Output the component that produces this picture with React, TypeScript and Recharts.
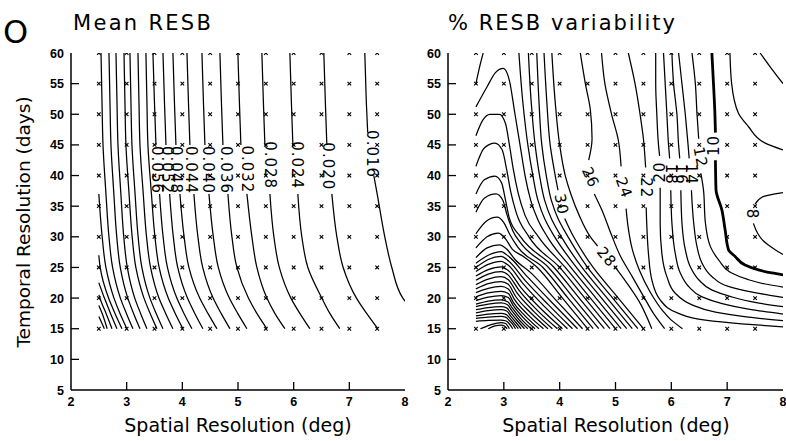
import React from "react";
import { ComposedChart, Line, Scatter, XAxis, YAxis } from "recharts";

type Pt = [number, number];
type Contour = { v: number; segs: Pt[][]; bold?: boolean };
type Tag = { x: number; y: number; t: string; a: number };

// sampling grid of the experiment (the small x marks)
const gridX = [2.5, 3, 3.5, 4, 4.5, 5, 5.5, 6, 6.5, 7, 7.5];
const gridY = [15, 20, 25, 30, 35, 40, 45, 50, 55, 60];
const xTicks = [2, 3, 4, 5, 6, 7, 8];
const yTicks = [5, 10, 15, 20, 25, 30, 35, 40, 45, 50, 55, 60];

// Mean RESB contours, each piece listed from top to bottom
const meanContours: Contour[] = [
  { v: 0.016, segs: [[[7.278, 60], [7.305, 52], [7.33, 47]], [[7.44, 40], [7.5, 37], [7.637, 30], [7.763, 25], [7.961, 20], [8.0, 19.5]]] },
  { v: 0.020, segs: [[[6.542, 60], [6.569, 52], [6.596, 45]], [[6.686, 37], [6.776, 30], [6.889, 25], [7.128, 20], [7.311, 17.5], [7.512, 15]]] },
  { v: 0.024, segs: [[[5.932, 60], [5.959, 52], [5.986, 45]], [[6.075, 37], [6.147, 30], [6.255, 25], [6.506, 20], [6.65, 17.5], [6.829, 15]]] },
  { v: 0.028, segs: [[[5.429, 60], [5.456, 52], [5.483, 45]], [[5.573, 37], [5.645, 30], [5.742, 25], [5.95, 20], [6.111, 17.5], [6.291, 15]]] },
  { v: 0.032, segs: [[[4.998, 60], [5.025, 52], [5.052, 45]], [[5.16, 37], [5.25, 30], [5.339, 25], [5.519, 20], [5.662, 17.5], [5.842, 15]]] },
  { v: 0.036, segs: [[[4.675, 60], [4.702, 52], [4.729, 45]], [[4.819, 37], [4.891, 30], [4.98, 25], [5.187, 20], [5.339, 17.5], [5.519, 15]]] },
  { v: 0.040, segs: [[[4.352, 60], [4.379, 52], [4.406, 45]], [[4.478, 37], [4.557, 30], [4.646, 25], [4.844, 20], [4.995, 17.5], [5.16, 15]]] },
  { v: 0.044, segs: [[[4.083, 60], [4.11, 52], [4.136, 45]], [[4.208, 37], [4.28, 30], [4.366, 25], [4.553, 20], [4.697, 17.5], [4.855, 15]]] },
  { v: 0.048, segs: [[[3.831, 60], [3.858, 52], [3.885, 45]], [[3.957, 37], [4.032, 30], [4.118, 25], [4.312, 20], [4.46, 17.5], [4.621, 15]]] },
  { v: 0.052, segs: [[[3.652, 60], [3.679, 52], [3.706, 45]], [[3.772, 37], [3.838, 30], [3.917, 25], [4.092, 20], [4.224, 17.5], [4.37, 15]]] },
  { v: 0.056, segs: [[[3.472, 60], [3.499, 52], [3.526, 45]], [[3.591, 37], [3.655, 30], [3.732, 25], [3.901, 20], [4.029, 17.5], [4.172, 15]]] },
  { v: 0.060, segs: [[[3.346, 60], [3.364, 52], [3.382, 45], [3.445, 37], [3.508, 30], [3.583, 25], [3.747, 20], [3.872, 17.5], [4.011, 15]]] },
  { v: 0.064, segs: [[[3.203, 60], [3.221, 52], [3.239, 45], [3.298, 37], [3.357, 30], [3.429, 25], [3.58, 20], [3.7, 17.5], [3.831, 15]]] },
  { v: 0.068, segs: [[[3.059, 60], [3.077, 52], [3.095, 45], [3.151, 37], [3.206, 30], [3.273, 25], [3.418, 20], [3.53, 17.5], [3.652, 15]]] },
  { v: 0.072, segs: [[[2.952, 60], [2.969, 52], [2.987, 45], [3.043, 37], [3.099, 30], [3.165, 25], [3.311, 20], [3.422, 17.5], [3.544, 15]]] },
  { v: 0.076, segs: [[[2.808, 60], [2.826, 52], [2.844, 45], [2.896, 37], [2.948, 30], [3.011, 25], [3.145, 20], [3.25, 17.5], [3.364, 15]]] },
  { v: 0.080, segs: [[[2.682, 60], [2.7, 52], [2.718, 45], [2.77, 37], [2.822, 30], [2.885, 25], [3.02, 20], [3.124, 17.5], [3.239, 15]]] },
  { v: 0.084, segs: [[[2.539, 60], [2.557, 52], [2.575, 45], [2.628, 37], [2.682, 30], [2.747, 25], [2.887, 20], [2.995, 17.5], [3.113, 15]]] },
  { v: 0.088, segs: [[[2.5, 37], [2.56, 30], [2.627, 25], [2.772, 20], [2.88, 17.5], [3.005, 15]]] },
  { v: 0.092, segs: [[[2.5, 27], [2.524, 25], [2.675, 20], [2.79, 17.5], [2.916, 15]]] },
  { v: 0.096, segs: [[[2.5, 22.5], [2.6, 20], [2.71, 17.5], [2.826, 15]]] },
  { v: 0.100, segs: [[[2.5, 20.5], [2.56, 19], [2.63, 17.5], [2.736, 15]]] },
  { v: 0.104, segs: [[[2.5, 18.8], [2.56, 17.5], [2.65, 15]]] },
  { v: 0.108, segs: [[[2.5, 17], [2.56, 15.8], [2.6, 15]]] },
];

const meanTags: Tag[] = [
  { x: 7.4, y: 43.5, t: "0.016", a: 90 },
  { x: 6.614, y: 41.5, t: "0.020", a: 90 },
  { x: 6.052, y: 41.7, t: "0.024", a: 90 },
  { x: 5.573, y: 41.7, t: "0.028", a: 90 },
  { x: 5.16, y: 41, t: "0.032", a: 90 },
  { x: 4.788, y: 40.9, t: "0.036", a: 90 },
  { x: 4.46, y: 40.9, t: "0.040", a: 90 },
  { x: 4.16, y: 40.9, t: "0.044", a: 90 },
  { x: 3.89, y: 40.9, t: "0.048", a: 90 },
  { x: 3.72, y: 40.9, t: "0.052", a: 90 },
  { x: 3.55, y: 40.9, t: "0.056", a: 90 },
];

// % RESB variability: lines coming from the top / right side (top to bottom)
const varContours: Contour[] = [
  { v: 6, segs: [[[7.59, 60], [7.75, 58], [8, 55]]] },
  { v: 8, segs: [[[7.05, 60], [7.08, 55], [7.2, 50.2], [7.38, 48], [7.68, 45.3], [8, 44.2]]] },
  { v: 8, segs: [[[8, 37.2], [7.63, 36.5], [7.5, 35.3]], [[7.47, 32.2], [7.55, 30.5], [7.63, 29.5], [7.86, 27.9], [8, 27.1]]] },
  { v: 10, bold: true, segs: [[[6.726, 60], [6.755, 55], [6.78, 50.2], [6.79, 47]], [[6.79, 42.5], [6.8, 37.7], [6.905, 34.4], [6.964, 31.1], [7.024, 27.9], [7.143, 26.8], [7.32, 25.4], [7.56, 24.6], [7.8, 24.1], [8, 23.8]]] },
  { v: 12, segs: [[[6.37, 60], [6.43, 55], [6.46, 50], [6.49, 46]], [[6.53, 40.3], [6.575, 37.7], [6.61, 32.3], [6.7, 28.4], [6.85, 26.2], [7.08, 24.1], [7.38, 23], [7.68, 22.3], [8, 21.8]]] },
  { v: 14, segs: [[[6.13, 60], [6.19, 55], [6.25, 50], [6.3, 45], [6.32, 42.8]], [[6.36, 37.6], [6.4, 32.3], [6.46, 28.4], [6.55, 25.7], [6.73, 23.5], [7.02, 21.9], [7.38, 21.1], [7.74, 20.5], [8, 20.1]]] },
  { v: 16, segs: [[[6.01, 60], [6.04, 55], [6.1, 50], [6.13, 45], [6.15, 42.8]], [[6.17, 37.6], [6.19, 32.3], [6.25, 27.9], [6.34, 25.1], [6.49, 23], [6.73, 21.3], [7.08, 20.2], [7.5, 19.3], [8, 18.6]]] },
  { v: 18, segs: [[[5.86, 60], [5.89, 55], [5.92, 50], [5.95, 45], [5.97, 42.8]], [[5.99, 37.6], [6.01, 32.3], [6.07, 27.3], [6.16, 24.1], [6.31, 21.9], [6.55, 20.2], [6.91, 19.1], [7.38, 18.2], [8, 17.4]]] },
  { v: 20, segs: [[[5.72, 60], [5.72, 55], [5.74, 50], [5.77, 45], [5.79, 43.2]], [[5.8, 38], [5.8, 32.3], [5.83, 27.3], [5.92, 23.5], [6.07, 20.8], [6.37, 18.9], [6.79, 17.7], [7.38, 16.9], [8, 16.3]]] },
  { v: 22, segs: [[[5.23, 60], [5.35, 55], [5.44, 50], [5.5, 46], [5.54, 41.3]], [[5.55, 34.8], [5.56, 32], [5.59, 27.3], [5.65, 23], [5.8, 19.7], [6.13, 17.5], [6.61, 16.4], [7.26, 15.8], [8, 15.3]]] },
  { v: 24, segs: [[[4.75, 60], [4.81, 55], [4.93, 50], [5.05, 45.8], [5.1, 41.5]], [[5.19, 34.6], [5.22, 32], [5.3, 28], [5.43, 24.5], [5.62, 21], [5.84, 18], [6.0, 16.4], [6.2, 15]]] },
  { v: 26, segs: [[[4.37, 60], [4.46, 55], [4.55, 50.7], [4.58, 46], [4.52, 42.5]], [[4.62, 37], [4.75, 34.5], [4.92, 30.5], [5.08, 27], [5.3, 23.5], [5.52, 20], [5.68, 17.5], [5.88, 15]]] },
  { v: 28, segs: [[[3.86, 60], [3.92, 52], [4.0, 45], [4.1, 40], [4.2, 37], [4.35, 33.5], [4.55, 30], [4.68, 28.5]], [[4.98, 25.2], [5.2, 22.5], [5.42, 19.5], [5.65, 15]]] },
  { v: 30, segs: [[[3.72, 60], [3.77, 52], [3.83, 45], [3.92, 40], [3.97, 37.6]], [[4.09, 33], [4.25, 30], [4.6, 25], [5.05, 20], [5.5, 15]]] },
  { v: 32, segs: [[[3.59, 60], [3.63, 52], [3.68, 45], [3.76, 40], [3.85, 36], [3.97, 33], [4.15, 30], [4.5, 25], [4.95, 20], [5.4, 15]]] },
  { v: 34, segs: [[[3.44, 60], [3.49, 52], [3.56, 45], [3.64, 40], [3.73, 36], [3.85, 33], [4.03, 30], [4.4, 25], [4.85, 20], [5.3, 15]]] },
  { v: 36, segs: [[[3.27, 60], [3.34, 52], [3.43, 45], [3.52, 40], [3.61, 36], [3.73, 33], [3.91, 30], [4.3, 25], [4.75, 20], [5.2, 15]]] },
  { v: 36, segs: [[[2.63, 60], [2.56, 57.5], [2.5, 55]]] },
];

// % RESB variability: humped lines around the maximum near (3, 15), left to right
const varHumps: Contour[] = [
  { v: 38, segs: [[[2.5, 51.2], [2.7, 54.5], [2.85, 56.8], [2.99, 57.5], [3.1, 55.5], [3.2, 50], [3.29, 45], [3.38, 40], [3.48, 36], [3.6, 33], [3.78, 30], [4.2, 25], [4.65, 20], [5.1, 15]]] },
  { v: 40, segs: [[[2.5, 46.5], [2.62, 49], [2.75, 50], [2.92, 50], [3.03, 48.5], [3.1, 45], [3.17, 41], [3.26, 37], [3.38, 33.5], [3.62, 30], [4.1, 25], [4.55, 20], [5.0, 15]]] },
  { v: 42, segs: [[[2.5, 41.5], [2.65, 44.5], [2.84, 45.3], [2.97, 44.2], [3.05, 41], [3.12, 37.5], [3.22, 34], [3.45, 30], [4.0, 25], [4.45, 20], [4.9, 15]]] },
  { v: 44, segs: [[[2.5, 37], [2.65, 39.3], [2.84, 39.9], [2.96, 38.8], [3.03, 36], [3.1, 33], [3.3, 30], [3.9, 25], [4.35, 20], [4.8, 15]]] },
  { v: 46, segs: [[[2.5, 34], [2.65, 36.3], [2.86, 37], [2.98, 36], [3.06, 33.5], [3.16, 31], [3.3, 29], [3.8, 25], [4.25, 20], [4.7, 15]]] },
  { v: 48, segs: [[[2.5, 30.5], [2.68, 32.5], [2.88, 33.2], [3.0, 32.3], [3.1, 30.5], [3.25, 28.3], [3.7, 25], [4.15, 20], [4.6, 15]]] },
  { v: 50, segs: [[[2.5, 28.2], [2.7, 30], [2.9, 30.6], [3.02, 29.8], [3.15, 28], [3.35, 26.8], [3.6, 25], [4.05, 20], [4.5, 15]]] },
  { v: 52, segs: [[[2.5, 26.6], [2.7, 28.2], [2.92, 28.7], [3.05, 28], [3.2, 26.3], [3.5, 24], [3.95, 19.5], [4.41, 15]]] },
  { v: 54, segs: [[[2.5, 25.7], [2.72, 27.0], [2.95, 27.6], [3.08, 26.85], [3.42, 23.5], [3.87, 19.2], [4.32, 15]]] },
  { v: 56, segs: [[[2.5, 25.0], [2.72, 26.3], [2.95, 26.8], [3.08, 26.1], [3.38, 22.9], [3.8, 18.9], [4.23, 15]]] },
  { v: 58, segs: [[[2.5, 24.35], [2.72, 25.5], [2.95, 26.0], [3.08, 25.35], [3.34, 22.4], [3.73, 18.6], [4.14, 15]]] },
  { v: 60, segs: [[[2.5, 23.6], [2.72, 24.65], [2.95, 25.1], [3.08, 24.5], [3.3, 21.8], [3.66, 18.3], [4.05, 15]]] },
  { v: 62, segs: [[[2.5, 22.9], [2.72, 23.9], [2.95, 24.3], [3.08, 23.75], [3.27, 21.3], [3.6, 18.0], [3.96, 15]]] },
  { v: 64, segs: [[[2.5, 22.2], [2.72, 23.1], [2.95, 23.5], [3.08, 23.0], [3.24, 20.8], [3.54, 17.8], [3.87, 15]]] },
  { v: 66, segs: [[[2.5, 21.5], [2.72, 22.35], [2.95, 22.7], [3.08, 22.25], [3.21, 20.3], [3.48, 17.6], [3.79, 15]]] },
  { v: 68, segs: [[[2.5, 20.9], [2.72, 21.6], [2.95, 21.9], [3.08, 21.5], [3.19, 19.8], [3.43, 17.3], [3.71, 15]]] },
  { v: 70, segs: [[[2.5, 20.2], [2.72, 20.85], [2.95, 21.1], [3.08, 20.75], [3.17, 19.3], [3.38, 17.1], [3.63, 15]]] },
  { v: 72, segs: [[[2.5, 19.6], [2.72, 20.15], [2.95, 20.4], [3.08, 20.1], [3.16, 18.9], [3.34, 16.9], [3.56, 15]]] },
  { v: 74, segs: [[[2.5, 19.0], [2.72, 19.5], [2.95, 19.7], [3.07, 19.4], [3.15, 18.4], [3.3, 16.7], [3.49, 15]]] },
  { v: 76, segs: [[[2.5, 18.6], [2.72, 19.0], [2.95, 19.2], [3.06, 18.95], [3.14, 18.0], [3.27, 16.5], [3.43, 15]]] },
  { v: 78, segs: [[[2.5, 18.1], [2.72, 18.45], [2.95, 18.6], [3.05, 18.4], [3.13, 17.5], [3.24, 16.3], [3.37, 15]]] },
  { v: 80, segs: [[[2.5, 17.6], [2.72, 17.95], [2.95, 18.1], [3.05, 17.9], [3.12, 17.1], [3.21, 16.1], [3.31, 15]]] },
  { v: 82, segs: [[[2.5, 17.1], [2.72, 17.4], [2.95, 17.5], [3.04, 17.35], [3.11, 16.7], [3.18, 15.9], [3.26, 15]]] },
  { v: 84, segs: [[[2.5, 16.7], [2.72, 16.9], [2.95, 17.0], [3.04, 16.85], [3.1, 16.3], [3.16, 15.7], [3.21, 15]]] },
  { v: 86, segs: [[[2.5, 16.2], [2.72, 16.35], [2.95, 16.4], [3.03, 16.3], [3.09, 15.9], [3.16, 15]]] },
  { v: 88, segs: [[[2.58, 15], [2.75, 15.6], [2.95, 16.0], [3.03, 15.85], [3.1, 15]]] },
  { v: 90, segs: [[[2.72, 15], [2.84, 15.45], [2.95, 15.6], [3.01, 15.45], [3.06, 15]]] },
];

const varTags: Tag[] = [
  { x: 4.03, y: 35.3, t: "30", a: 80 },
  { x: 4.84, y: 26.7, t: "28", a: 50 },
  { x: 4.55, y: 39.7, t: "26", a: 65 },
  { x: 5.15, y: 38.0, t: "24", a: 70 },
  { x: 5.55, y: 38.0, t: "22", a: 90 },
  { x: 5.8, y: 40.6, t: "20", a: -90 },
  { x: 6.0, y: 40.2, t: "18", a: 90 },
  { x: 6.17, y: 40.2, t: "16", a: 90 },
  { x: 6.35, y: 40.2, t: "14", a: 90 },
  { x: 6.52, y: 43.0, t: "12", a: 80 },
  { x: 6.77, y: 44.9, t: "10", a: -90 },
  { x: 7.45, y: 33.7, t: "8", a: 90 },
];

const grid = gridY.flatMap((y) => gridX.map((x) => ({ x, y })));

const axisLine = { stroke: "#000", strokeWidth: 1.5 };
const tickFont = { fontFamily: "'Liberation Sans', Arial, sans-serif", fontSize: 12.5, fontWeight: 700, fill: "#000" } as const;
const TM = 7;

const LeftTick = (p: any) => {
  const v = p.payload.value;
  const edge = p.x + TM;
  return (
    <g>
      <text x={p.x} y={p.y + 4.5} textAnchor="end" style={tickFont}>{v}</text>
      {v > 5 && v < 60 && <line x1={edge} x2={edge + 8} y1={p.y} y2={p.y} stroke="#000" strokeWidth={1.3} />}
    </g>
  );
};

const RightTick = (p: any) => {
  const v = p.payload.value;
  if (v <= 5 || v >= 60) return <g />;
  return <line x1={p.x - 7} x2={p.x} y1={p.y} y2={p.y} stroke="#000" strokeWidth={1.3} />;
};

const BottomTick = (p: any) => {
  const v = p.payload.value;
  const edge = p.y - TM;
  return (
    <g>
      <text x={p.x} y={p.y + 9} textAnchor="middle" style={tickFont}>{v}</text>
      {v > 2 && v < 8 && <line x1={p.x} x2={p.x} y1={edge} y2={edge - 8} stroke="#000" strokeWidth={1.3} />}
    </g>
  );
};

const Cross = (p: any) => {
  const { cx, cy } = p;
  const r = 1.8;
  return (
    <path
      d={`M${cx - r},${cy - r}L${cx + r},${cy + r}M${cx - r},${cy + r}L${cx + r},${cy - r}`}
      stroke="#000"
      strokeWidth={1.1}
    />
  );
};

const TagShape = (p: any) => {
  const { cx, cy } = p;
  const d = p.payload ?? p;
  return (
    <text
      x={cx}
      y={cy}
      textAnchor="middle"
      dominantBaseline="central"
      transform={`rotate(${d.a}, ${cx}, ${cy})`}
      fontFamily="'DejaVu Sans', sans-serif"
      fontSize={15}
      letterSpacing={1}
      fill="#000"
    >
      {d.t}
    </text>
  );
};

const lineEls = (list: Contour[], curve: "monotoneX" | "monotoneY", prefix: string) =>
  list.flatMap((c, i) =>
    c.segs.map((s, j) => (
      <Line
        key={`${prefix}-${i}-${j}`}
        data={(curve === "monotoneY" ? [...s].reverse() : s).map(([x, y]) => ({ x, y }))}
        dataKey="y"
        type={curve}
        stroke="#000"
        strokeWidth={c.bold ? 2.8 : 1.25}
        dot={false}
        activeDot={false}
        isAnimationActive={false}
      />
    ))
  );

function Panel({ left, width, mr, children }: { left: number; width: number; mr: number; children: React.ReactNode }) {
  return (
    <div style={{ position: "absolute", left, top: 0 }}>
      <ComposedChart width={width} height={441} margin={{ top: 53, right: mr, bottom: 21, left: 31 }}>
        <XAxis xAxisId="top" orientation="top" type="number" domain={[2, 8]} height={0} tick={false} tickLine={false} axisLine={axisLine} allowDataOverflow />
        <XAxis
          type="number"
          dataKey="x"
          domain={[2, 8]}
          ticks={xTicks}
          interval={0}
          height={30}
          tickSize={0}
          tickMargin={TM}
          tickLine={false}
          axisLine={axisLine}
          tick={(p: any) => <BottomTick {...p} />}
          allowDataOverflow
        />
        <YAxis
          type="number"
          dataKey="y"
          domain={[5, 60]}
          ticks={yTicks}
          interval={0}
          width={40}
          tickSize={0}
          tickMargin={TM}
          tickLine={false}
          axisLine={axisLine}
          tick={(p: any) => <LeftTick {...p} />}
          allowDataOverflow
        />
        <YAxis
          yAxisId="right"
          orientation="right"
          type="number"
          domain={[5, 60]}
          ticks={yTicks}
          interval={0}
          width={0}
          tickSize={0}
          tickMargin={0}
          tickLine={false}
          axisLine={axisLine}
          tick={(p: any) => <RightTick {...p} />}
          allowDataOverflow
        />
        {children}
        <Scatter data={grid} shape={Cross} isAnimationActive={false} />
      </ComposedChart>
    </div>
  );
}

const labelFont = { fontFamily: "'DejaVu Sans', sans-serif", fill: "#000" } as const;

export default function App() {
  return (
    <div style={{ position: "absolute", left: 0, top: 0, width: 786, height: 441, background: "#fff", overflow: "hidden" }}>
      <Panel left={0} width={420} mr={15}>
        {lineEls(meanContours, "monotoneY", "m")}
        <Scatter data={meanTags} shape={TagShape} isAnimationActive={false} />
      </Panel>
      <Panel left={377} width={409} mr={3}>
        {lineEls(varContours, "monotoneY", "v")}
        {lineEls(varHumps, "monotoneX", "h")}
        <Scatter data={varTags} shape={TagShape} isAnimationActive={false} />
      </Panel>
      <svg width={786} height={441} style={{ position: "absolute", left: 0, top: 0, pointerEvents: "none" }}>
        <text x={3} y={43} fontSize={32} {...labelFont}>O</text>
        <text x={73} y={30} fontSize={21} letterSpacing={2.3} {...labelFont}>Mean RESB</text>
        <text x={448} y={30} fontSize={21} letterSpacing={2} {...labelFont}>% RESB variability</text>
        <text x={30} y={222} fontSize={18.5} textAnchor="middle" transform="rotate(-90, 30, 222)" {...labelFont}>
          Temporal Resolution (days)
        </text>
        <text x={238} y={432} fontSize={19} textAnchor="middle" {...labelFont}>Spatial Resolution (deg)</text>
        <text x={616} y={432} fontSize={19} textAnchor="middle" {...labelFont}>Spatial Resolution (deg)</text>
      </svg>
    </div>
  );
}
